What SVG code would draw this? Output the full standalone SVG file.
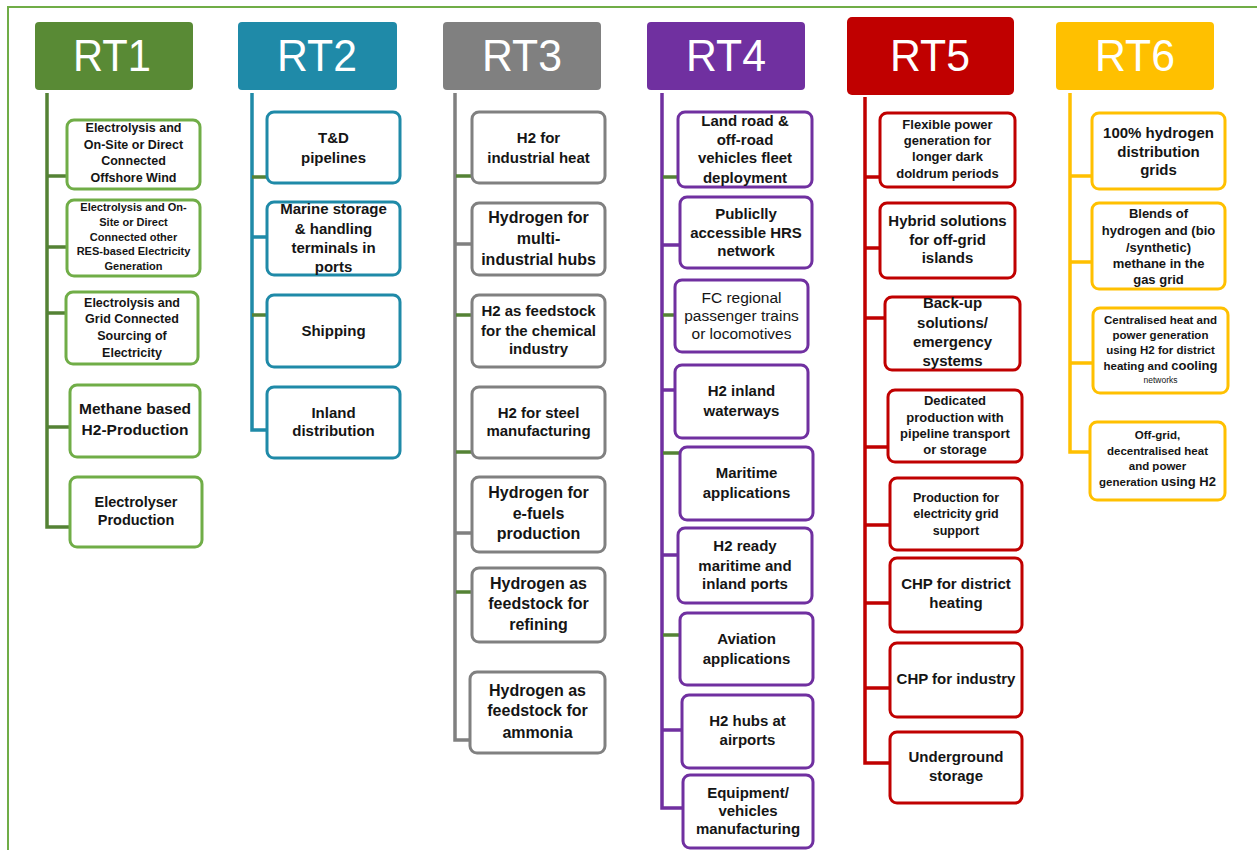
<svg xmlns="http://www.w3.org/2000/svg" width="1257" height="850" viewBox="0 0 1257 850">
<style>
.hd rect{stroke:none}
.hd text{font-family:"Liberation Sans",Arial,sans-serif;font-size:45px;fill:#fff;text-anchor:middle}
.bx rect{fill:#fff;stroke-width:3}
.bx text{font-family:"Liberation Sans",Arial,sans-serif;font-weight:bold;fill:#151515;text-anchor:middle}
.bx .nw{font-weight:normal}
.c1 rect{stroke:#70AD47}.c2 rect{stroke:#1F8AA8}.c3 rect{stroke:#808080}.c4 rect{stroke:#7030A0}.c5 rect{stroke:#C00000}.c6 rect{stroke:#FFC000}
#connectors path{fill:none;stroke-width:3.5}
.l1{stroke:#548235}.l2{stroke:#1F8AA8}.l3{stroke:#808080}.l4{stroke:#7030A0}.l5{stroke:#C00000}.l6{stroke:#FFC000}.lg{stroke:#548235}
</style>
<rect x="8" y="7" width="1270" height="860" fill="#fff" stroke="#70AD47" stroke-width="2"/>

<g id="connectors">
<path class="l1" d="M47 93V527H70M47 176H67M47 247H67M47 313H66M47 427H70"/>
<path class="l2" d="M252 93V430H267M252 237H272"/>
<path class="lg" d="M252 177H267M252 315H267"/>
<path class="l3" d="M455 93V740H470M455 244H472M455 533H472"/>
<path class="lg" d="M456 176H472M456 315H472M456 452H472M456 592H472"/>
<path class="l4" d="M662 93V808H683M662 245H680M662 390H675M662 555H678M662 730H682"/>
<path class="lg" d="M663 177H678M663 315H675M663 453H680M663 635H680"/>
<path class="l5" d="M865 97V763H890M865 177H880M865 248H880M865 318H885M865 447H888M865 525H890M865 603H890M865 688H890"/>
<path class="l6" d="M1070 93V452H1090M1070 176H1092M1070 262H1092M1070 363H1093"/>
</g>

<g id="rt1" class="hd"><rect x="35" y="22" width="158" height="68" rx="4" fill="#598A35"/><text x="112" y="71" textLength="78" lengthAdjust="spacingAndGlyphs">RT1</text></g>
<g id="rt2" class="hd"><rect x="238" y="22" width="159" height="68" rx="4" fill="#1F8AA8"/><text x="317" y="71" textLength="80" lengthAdjust="spacingAndGlyphs">RT2</text></g>
<g id="rt3" class="hd"><rect x="443" y="22" width="158" height="68" rx="4" fill="#808080"/><text x="522" y="71" textLength="80" lengthAdjust="spacingAndGlyphs">RT3</text></g>
<g id="rt4" class="hd"><rect x="647" y="22" width="158" height="68" rx="4" fill="#7030A0"/><text x="726" y="71" textLength="80" lengthAdjust="spacingAndGlyphs">RT4</text></g>
<g id="rt5" class="hd"><rect x="847" y="17" width="167" height="78" rx="5" fill="#C00000"/><text x="930" y="71" textLength="80" lengthAdjust="spacingAndGlyphs">RT5</text></g>
<g id="rt6" class="hd"><rect x="1056" y="22" width="158" height="68" rx="4" fill="#FFC000"/><text x="1135" y="71" textLength="80" lengthAdjust="spacingAndGlyphs">RT6</text></g>

<!-- RT1 -->
<g id="rt1-1" class="bx c1"><rect x="67" y="120" width="133" height="69" rx="7"/><text font-size="12.5px"><tspan x="133.5" y="132">Electrolysis and</tspan><tspan x="133.5" y="148.5">On-Site or Direct</tspan><tspan x="133.5" y="165">Connected</tspan><tspan x="133.5" y="181.5">Offshore Wind</tspan></text></g>
<g id="rt1-2" class="bx c1"><rect x="67" y="200" width="133" height="76" rx="7"/><text font-size="11px"><tspan x="133.5" y="211">Electrolysis and On-</tspan><tspan x="133.5" y="226">Site or Direct</tspan><tspan x="133.5" y="241">Connected other</tspan><tspan x="133.5" y="255">RES-based Electricity</tspan><tspan x="133.5" y="270">Generation</tspan></text></g>
<g id="rt1-3" class="bx c1"><rect x="66" y="292" width="132" height="72" rx="7"/><text font-size="12.5px"><tspan x="132" y="306.5">Electrolysis and</tspan><tspan x="132" y="322.5">Grid Connected</tspan><tspan x="132" y="339.5">Sourcing of</tspan><tspan x="132" y="356.5">Electricity</tspan></text></g>
<g id="rt1-4" class="bx c1"><rect x="70" y="385" width="130" height="72" rx="7"/><text font-size="15.5px"><tspan x="135" y="413.5">Methane based</tspan><tspan x="135" y="434.5">H2-Production</tspan></text></g>
<g id="rt1-5" class="bx c1"><rect x="70" y="477" width="132" height="70" rx="7"/><text font-size="14.5px"><tspan x="136" y="507">Electrolyser</tspan><tspan x="136" y="525">Production</tspan></text></g>

<!-- RT2 -->
<g id="rt2-1" class="bx c2"><rect x="267" y="112" width="133" height="71" rx="7"/><text font-size="15px"><tspan x="333.5" y="142.5">T&amp;D</tspan><tspan x="333.5" y="162.5">pipelines</tspan></text></g>
<g id="rt2-2" class="bx c2"><rect x="267" y="202" width="133" height="73" rx="7"/><text font-size="15px"><tspan x="333.5" y="213.5">Marine storage</tspan><tspan x="333.5" y="233.5">&amp; handling</tspan><tspan x="333.5" y="252.5">terminals in</tspan><tspan x="333.5" y="271.5">ports</tspan></text></g>
<g id="rt2-3" class="bx c2"><rect x="267" y="295" width="133" height="72" rx="7"/><text font-size="15px"><tspan x="333.5" y="335.5">Shipping</tspan></text></g>
<g id="rt2-4" class="bx c2"><rect x="267" y="387" width="133" height="71" rx="7"/><text font-size="15px"><tspan x="333.5" y="417.5">Inland</tspan><tspan x="333.5" y="435.5">distribution</tspan></text></g>

<!-- RT3 -->
<g id="rt3-1" class="bx c3"><rect x="472" y="112" width="133" height="71" rx="7"/><text font-size="15px"><tspan x="538.5" y="142.5">H2 for</tspan><tspan x="538.5" y="162.5">industrial heat</tspan></text></g>
<g id="rt3-2" class="bx c3"><rect x="472" y="203" width="133" height="72" rx="7"/><text font-size="16px"><tspan x="538.5" y="222.5">Hydrogen for</tspan><tspan x="538.5" y="243.5">multi-</tspan><tspan x="538.5" y="264.5">industrial hubs</tspan></text></g>
<g id="rt3-3" class="bx c3"><rect x="472" y="295" width="133" height="72" rx="7"/><text font-size="15px"><tspan x="538.5" y="315.5">H2 as feedstock</tspan><tspan x="538.5" y="335.5">for the chemical</tspan><tspan x="538.5" y="353.5">industry</tspan></text></g>
<g id="rt3-4" class="bx c3"><rect x="472" y="387" width="133" height="71" rx="7"/><text font-size="15px"><tspan x="538.5" y="417.5">H2 for steel</tspan><tspan x="538.5" y="435.5">manufacturing</tspan></text></g>
<g id="rt3-5" class="bx c3"><rect x="472" y="477" width="133" height="75" rx="7"/><text font-size="16px"><tspan x="538.5" y="497.5">Hydrogen for</tspan><tspan x="538.5" y="518.5">e-fuels</tspan><tspan x="538.5" y="538.5">production</tspan></text></g>
<g id="rt3-6" class="bx c3"><rect x="472" y="568" width="133" height="74" rx="7"/><text font-size="16px"><tspan x="538.5" y="588.5">Hydrogen as</tspan><tspan x="538.5" y="608.5">feedstock for</tspan><tspan x="538.5" y="629.5">refining</tspan></text></g>
<g id="rt3-7" class="bx c3"><rect x="470" y="672" width="135" height="81" rx="7"/><text font-size="16px"><tspan x="537.5" y="695.5">Hydrogen as</tspan><tspan x="537.5" y="715.5">feedstock for</tspan><tspan x="537.5" y="737.5">ammonia</tspan></text></g>

<!-- RT4 -->
<g id="rt4-1" class="bx c4"><rect x="678" y="112" width="134" height="75" rx="7"/><text font-size="15px"><tspan x="745" y="125.5">Land road &amp;</tspan><tspan x="745" y="144.5">off-road</tspan><tspan x="745" y="162.5">vehicles fleet</tspan><tspan x="745" y="182.5">deployment</tspan></text></g>
<g id="rt4-2" class="bx c4"><rect x="680" y="197" width="132" height="71" rx="7"/><text font-size="15px"><tspan x="746" y="218.5">Publiclly</tspan><tspan x="746" y="237.5">accessible HRS</tspan><tspan x="746" y="255.5">network</tspan></text></g>
<g id="rt4-3" class="bx c4"><rect x="675" y="280" width="133" height="72" rx="7"/><text font-size="15.5px" class="nw"><tspan x="741.5" y="302.5">FC regional</tspan><tspan x="741.5" y="320.5">passenger trains</tspan><tspan x="741.5" y="338.5">or locomotives</tspan></text></g>
<g id="rt4-4" class="bx c4"><rect x="675" y="365" width="133" height="73" rx="7"/><text font-size="15px"><tspan x="741.5" y="395.5">H2 inland</tspan><tspan x="741.5" y="415.5">waterways</tspan></text></g>
<g id="rt4-5" class="bx c4"><rect x="680" y="447" width="133" height="73" rx="7"/><text font-size="15px"><tspan x="746.5" y="477.5">Maritime</tspan><tspan x="746.5" y="497.5">applications</tspan></text></g>
<g id="rt4-6" class="bx c4"><rect x="678" y="528" width="134" height="75" rx="7"/><text font-size="15px"><tspan x="745" y="550.5">H2 ready</tspan><tspan x="745" y="570.5">maritime and</tspan><tspan x="745" y="588.5">inland ports</tspan></text></g>
<g id="rt4-7" class="bx c4"><rect x="680" y="613" width="133" height="72" rx="7"/><text font-size="15px"><tspan x="746.5" y="643.5">Aviation</tspan><tspan x="746.5" y="663.5">applications</tspan></text></g>
<g id="rt4-8" class="bx c4"><rect x="682" y="695" width="131" height="73" rx="7"/><text font-size="15px"><tspan x="747.5" y="725.5">H2 hubs at</tspan><tspan x="747.5" y="744.5">airports</tspan></text></g>
<g id="rt4-9" class="bx c4"><rect x="683" y="775" width="130" height="73" rx="7"/><text font-size="15px"><tspan x="748" y="797.5">Equipment/</tspan><tspan x="748" y="815.5">vehicles</tspan><tspan x="748" y="833.5">manufacturing</tspan></text></g>

<!-- RT5 -->
<g id="rt5-1" class="bx c5"><rect x="880" y="113" width="135" height="74" rx="7"/><text font-size="13px"><tspan x="947.5" y="128.5">Flexible power</tspan><tspan x="947.5" y="144.5">generation for</tspan><tspan x="947.5" y="160.5">longer dark</tspan><tspan x="947.5" y="177.5">doldrum periods</tspan></text></g>
<g id="rt5-2" class="bx c5"><rect x="880" y="203" width="135" height="75" rx="7"/><text font-size="15px"><tspan x="947.5" y="225.5">Hybrid solutions</tspan><tspan x="947.5" y="244.5">for off-grid</tspan><tspan x="947.5" y="262.5">islands</tspan></text></g>
<g id="rt5-3" class="bx c5"><rect x="885" y="297" width="135" height="73" rx="7"/><text font-size="15px"><tspan x="952.5" y="307.5">Back-up</tspan><tspan x="952.5" y="327.5">solutions/</tspan><tspan x="952.5" y="346.5">emergency</tspan><tspan x="952.5" y="365.5">systems</tspan></text></g>
<g id="rt5-4" class="bx c5"><rect x="888" y="390" width="134" height="72" rx="7"/><text font-size="13px"><tspan x="955" y="404.5">Dedicated</tspan><tspan x="955" y="421.5">production with</tspan><tspan x="955" y="437.5">pipeline transport</tspan><tspan x="955" y="453.5">or storage</tspan></text></g>
<g id="rt5-5" class="bx c5"><rect x="890" y="478" width="132" height="72" rx="7"/><text font-size="12.5px"><tspan x="956" y="501.5">Production for</tspan><tspan x="956" y="517.5">electricity grid</tspan><tspan x="956" y="534.5">support</tspan></text></g>
<g id="rt5-6" class="bx c5"><rect x="890" y="558" width="132" height="74" rx="7"/><text font-size="15px"><tspan x="956" y="588.5">CHP for district</tspan><tspan x="956" y="607.5">heating</tspan></text></g>
<g id="rt5-7" class="bx c5"><rect x="890" y="643" width="132" height="74" rx="7"/><text font-size="15px"><tspan x="956" y="683.5">CHP for industry</tspan></text></g>
<g id="rt5-8" class="bx c5"><rect x="890" y="732" width="132" height="71" rx="7"/><text font-size="15px"><tspan x="956" y="761.5">Underground</tspan><tspan x="956" y="780.5">storage</tspan></text></g>

<!-- RT6 -->
<g id="rt6-1" class="bx c6"><rect x="1092" y="113" width="133" height="76" rx="7"/><text font-size="15px"><tspan x="1158.5" y="137.5">100% hydrogen</tspan><tspan x="1158.5" y="156.5">distribution</tspan><tspan x="1158.5" y="174.5">grids</tspan></text></g>
<g id="rt6-2" class="bx c6"><rect x="1092" y="203" width="133" height="86" rx="7"/><text font-size="13px"><tspan x="1158.5" y="217.5">Blends of</tspan><tspan x="1158.5" y="234.5">hydrogen and (bio</tspan><tspan x="1158.5" y="251.5">/synthetic)</tspan><tspan x="1158.5" y="267.5">methane in the</tspan><tspan x="1158.5" y="283.5">gas grid</tspan></text></g>
<g id="rt6-3" class="bx c6"><rect x="1093" y="308" width="135" height="85" rx="7"/><text font-size="11.5px"><tspan x="1160.5" y="324">Centralised heat and</tspan><tspan x="1160.5" y="339">power generation</tspan><tspan x="1160.5" y="354">using H2 for district</tspan><tspan x="1160.5" y="370">heating and <tspan font-size="13px">cooling</tspan></tspan><tspan x="1160.5" y="383" font-size="8.5px" class="nw">networks</tspan></text></g>
<g id="rt6-4" class="bx c6"><rect x="1090" y="422" width="135" height="78" rx="7"/><text font-size="11.5px"><tspan x="1157.5" y="439">Off-grid,</tspan><tspan x="1157.5" y="455">decentralised heat</tspan><tspan x="1157.5" y="470">and power</tspan><tspan x="1157.5" y="486">generation <tspan font-size="13px">using H2</tspan></tspan></text></g>
</svg>
